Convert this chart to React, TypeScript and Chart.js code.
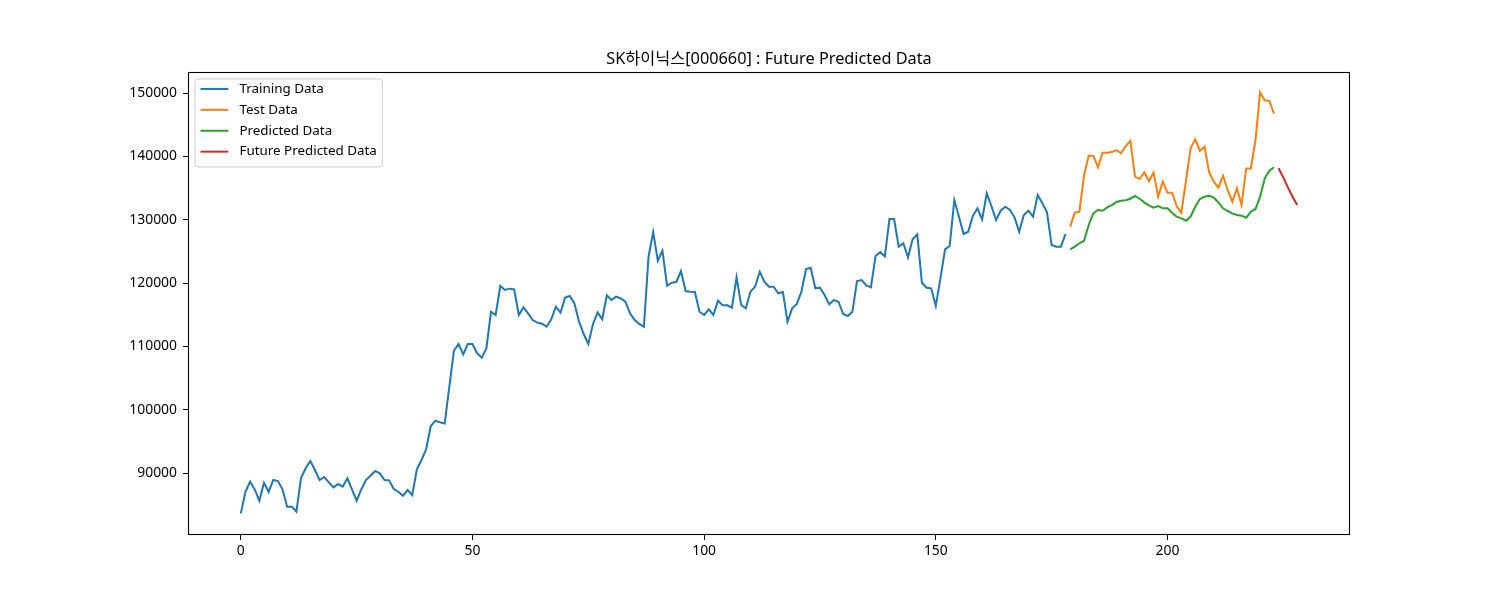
import { useEffect, useRef } from "react";
import { Chart, registerables } from "chart.js";

Chart.register(...registerables);

const TITLE = "SK하이닉스[000660] : Future Predicted Data";
const FONT_FAMILY = '"Noto Sans", "Noto Sans CJK KR", sans-serif';

const trainingStart = 0;
const trainingValues = [
  83630, 87040, 88620, 87420, 85620, 88460, 87040, 88890, 88730, 87420,
  84680, 84680, 83890, 89260, 90740, 91890, 90470, 88890, 89370, 88530,
  87740, 88260, 87840, 89160, 87420, 85620, 87420, 88890, 89580, 90320,
  89950, 88890, 88840, 87470, 87040, 86410, 87310, 86520, 90580, 92050,
  93740, 97420, 98260, 98000, 97800, 103600, 109310, 110370, 108740, 110370,
  110370, 108900, 108210, 109680, 115470, 114950, 119530, 118900, 119110, 119000,
  114950, 116160, 115210, 114160, 113740, 113580, 113100, 114270, 116260, 115320,
  117690, 117950, 116790, 113890, 111950, 110370, 113470, 115370, 114270, 118050,
  117310, 117840, 117580, 117050, 115210, 114160, 113530, 113100, 124150, 128050,
  123520, 125100, 119570, 120050, 120160, 121890, 118730, 118630, 118580, 115470,
  114950, 115840, 114950, 117210, 116470, 116470, 116100, 120900, 116530, 116000,
  118630, 119420, 121790, 120210, 119420, 119420, 118370, 118580, 113890, 116000,
  116680, 118630, 122210, 122420, 119160, 119260, 118100, 116630, 117310, 117050,
  115100, 114790, 115470, 120320, 120470, 119630, 119320, 124260, 124870, 124200,
  130100, 130100, 125740, 126270, 124050, 126900, 127690, 120050, 119260, 119160,
  116370, 120740, 125320, 125840, 133100, 130470, 127740, 128100, 130580, 131790,
  130050, 134160, 132160, 129950, 131420, 132050, 131530, 130370, 128100, 130740,
  131420, 130470, 133900, 132580, 131160, 126000, 125740, 125740, 127740,
];

const testStart = 179;
const testValues = [
  128900, 131100, 131260, 137050, 140100, 140100, 138270, 140580, 140580, 140680,
  141000, 140480, 141630, 142470, 136790, 136420, 137480, 136100, 137420, 133630,
  136000, 134260, 134260, 132160, 131100, 136200, 141260, 142680, 140890, 141520,
  137480, 136000, 135050, 136950, 134680, 132840, 134950, 132310, 138100, 138100,
  142580, 150100, 148840, 148740, 146740,
];

const predictedStart = 179;
const predictedValues = [
  125320, 125740, 126270, 126680, 129160, 131000, 131530, 131420, 131950, 132310,
  132790, 133000, 133060, 133310, 133740, 133310, 132740, 132260, 131890, 132160,
  131790, 131790, 131100, 130470, 130210, 129840, 130500, 132050, 133260, 133630,
  133790, 133470, 132740, 131790, 131370, 131000, 130740, 130630, 130310, 131260,
  131690, 133630, 136530, 137740, 138270,
];

const futureStart = 224;
const futureValues = [138110, 136690, 135110, 133630, 132320];

const xTicks = [0, 50, 100, 150, 200];
const yTicks = [90000, 100000, 110000, 120000, 130000, 140000, 150000];

const toPoints = (start: number, values: number[]) =>
  values.map((v, i) => ({ x: start + i, y: v }));

const titlePlugin = {
  id: "mplTitle",
  afterDraw(chart: Chart) {
    const { ctx, chartArea } = chart;
    ctx.save();
    ctx.fillStyle = "#000";
    ctx.font = `16.3px ${FONT_FAMILY}`;
    ctx.textAlign = "center";
    ctx.textBaseline = "middle";
    ctx.fillText(TITLE, (chartArea.left + chartArea.right) / 2, chartArea.top - 13);
    ctx.restore();
  },
};

const framePlugin = {
  id: "mplFrame",
  afterDraw(chart: Chart) {
    const { ctx, chartArea } = chart;
    ctx.save();
    ctx.strokeStyle = "#000";
    ctx.lineWidth = 1.1;
    ctx.strokeRect(
      Math.round(chartArea.left) + 0.5,
      Math.round(chartArea.top) + 0.5,
      Math.round(chartArea.right - chartArea.left) - 1,
      Math.round(chartArea.bottom - chartArea.top) - 1
    );
    ctx.restore();
  },
};

const legendPlugin = {
  id: "mplLegend",
  afterDraw(chart: Chart) {
    const { ctx, chartArea } = chart;
    const fs = 13.9;
    ctx.save();
    ctx.font = `13.4px ${FONT_FAMILY}`;
    const items = chart.data.datasets.map((d) => ({
      label: String(d.label),
      color: String(d.borderColor),
    }));
    const maxW = Math.max(...items.map((it) => ctx.measureText(it.label).width));
    const pad = 0.4 * fs;
    const handle = 2 * fs;
    const textPad = 0.8 * fs;
    const rowH = 20.9;
    const x0 = chartArea.left + 0.5 * fs;
    const y0 = chartArea.top + 0.5 * fs;
    const w = pad + handle + textPad + maxW + pad;
    const h = rowH * items.length + 4.4;

    ctx.beginPath();
    ctx.roundRect(x0, y0, w, h, 3);
    ctx.fillStyle = "rgba(255,255,255,0.8)";
    ctx.fill();
    ctx.strokeStyle = "#cccccc";
    ctx.lineWidth = 1;
    ctx.stroke();

    items.forEach((it, i) => {
      const cy = y0 + 10 + i * rowH;
      ctx.beginPath();
      ctx.moveTo(x0 + pad, cy);
      ctx.lineTo(x0 + pad + handle, cy);
      ctx.strokeStyle = it.color;
      ctx.lineWidth = 2;
      ctx.stroke();
      ctx.fillStyle = "#000";
      ctx.textAlign = "left";
      ctx.textBaseline = "middle";
      ctx.fillText(it.label, x0 + pad + handle + textPad, cy);
    });
    ctx.restore();
  },
};

function App() {
  const canvasRef = useRef<HTMLCanvasElement | null>(null);
  const chartRef = useRef<Chart | null>(null);

  useEffect(() => {
    if (!canvasRef.current) return;
    const tickFont = { family: FONT_FAMILY, size: 13.9 };

    chartRef.current = new Chart(canvasRef.current, {
      type: "line",
      data: {
        datasets: [
          {
            label: "Training Data",
            data: toPoints(trainingStart, trainingValues),
            borderColor: "#1f77b4",
          },
          {
            label: "Test Data",
            data: toPoints(testStart, testValues),
            borderColor: "#ff7f0e",
          },
          {
            label: "Predicted Data",
            data: toPoints(predictedStart, predictedValues),
            borderColor: "#2ca02c",
          },
          {
            label: "Future Predicted Data",
            data: toPoints(futureStart, futureValues),
            borderColor: "#d62728",
          },
        ],
      },
      options: {
        animation: false,
        responsive: false,
        devicePixelRatio: 1,
        layout: { padding: { left: 0, right: 150, top: 72, bottom: 0 } },
        elements: {
          point: { radius: 0 },
          line: { tension: 0, borderWidth: 2, fill: false },
        },
        plugins: {
          legend: { display: false },
          title: { display: false },
          tooltip: { enabled: false },
        },
        scales: {
          x: {
            type: "linear",
            min: -11.4,
            max: 239.4,
            afterBuildTicks: (scale: any) => {
              scale.ticks = xTicks.map((v) => ({ value: v }));
            },
            afterFit: (scale: any) => {
              scale.height = 65;
            },
            grid: { drawOnChartArea: false, tickLength: 5, color: "#000" },
            border: { display: false },
            ticks: {
              color: "#000",
              font: tickFont,
              padding: 3,
              maxRotation: 0,
              callback: (v: any) => String(v),
            },
          },
          y: {
            type: "linear",
            min: 80210,
            max: 153320,
            afterBuildTicks: (scale: any) => {
              scale.ticks = yTicks.map((v) => ({ value: v }));
            },
            afterFit: (scale: any) => {
              scale.width = 188;
            },
            grid: { drawOnChartArea: false, tickLength: 5, color: "#000" },
            border: { display: false },
            ticks: {
              color: "#000",
              font: tickFont,
              padding: 6,
              callback: (v: any) => String(v),
            },
          },
        },
      },
      plugins: [titlePlugin, framePlugin, legendPlugin],
    });

    return () => {
      if (chartRef.current) {
        chartRef.current.destroy();
        chartRef.current = null;
      }
    };
  }, []);

  return (
    <div style={{ position: "fixed", left: 0, top: 0, width: 1500, height: 600, background: "#fff" }}>
      <canvas ref={canvasRef} width={1500} height={600} />
    </div>
  );
}

export default App;
